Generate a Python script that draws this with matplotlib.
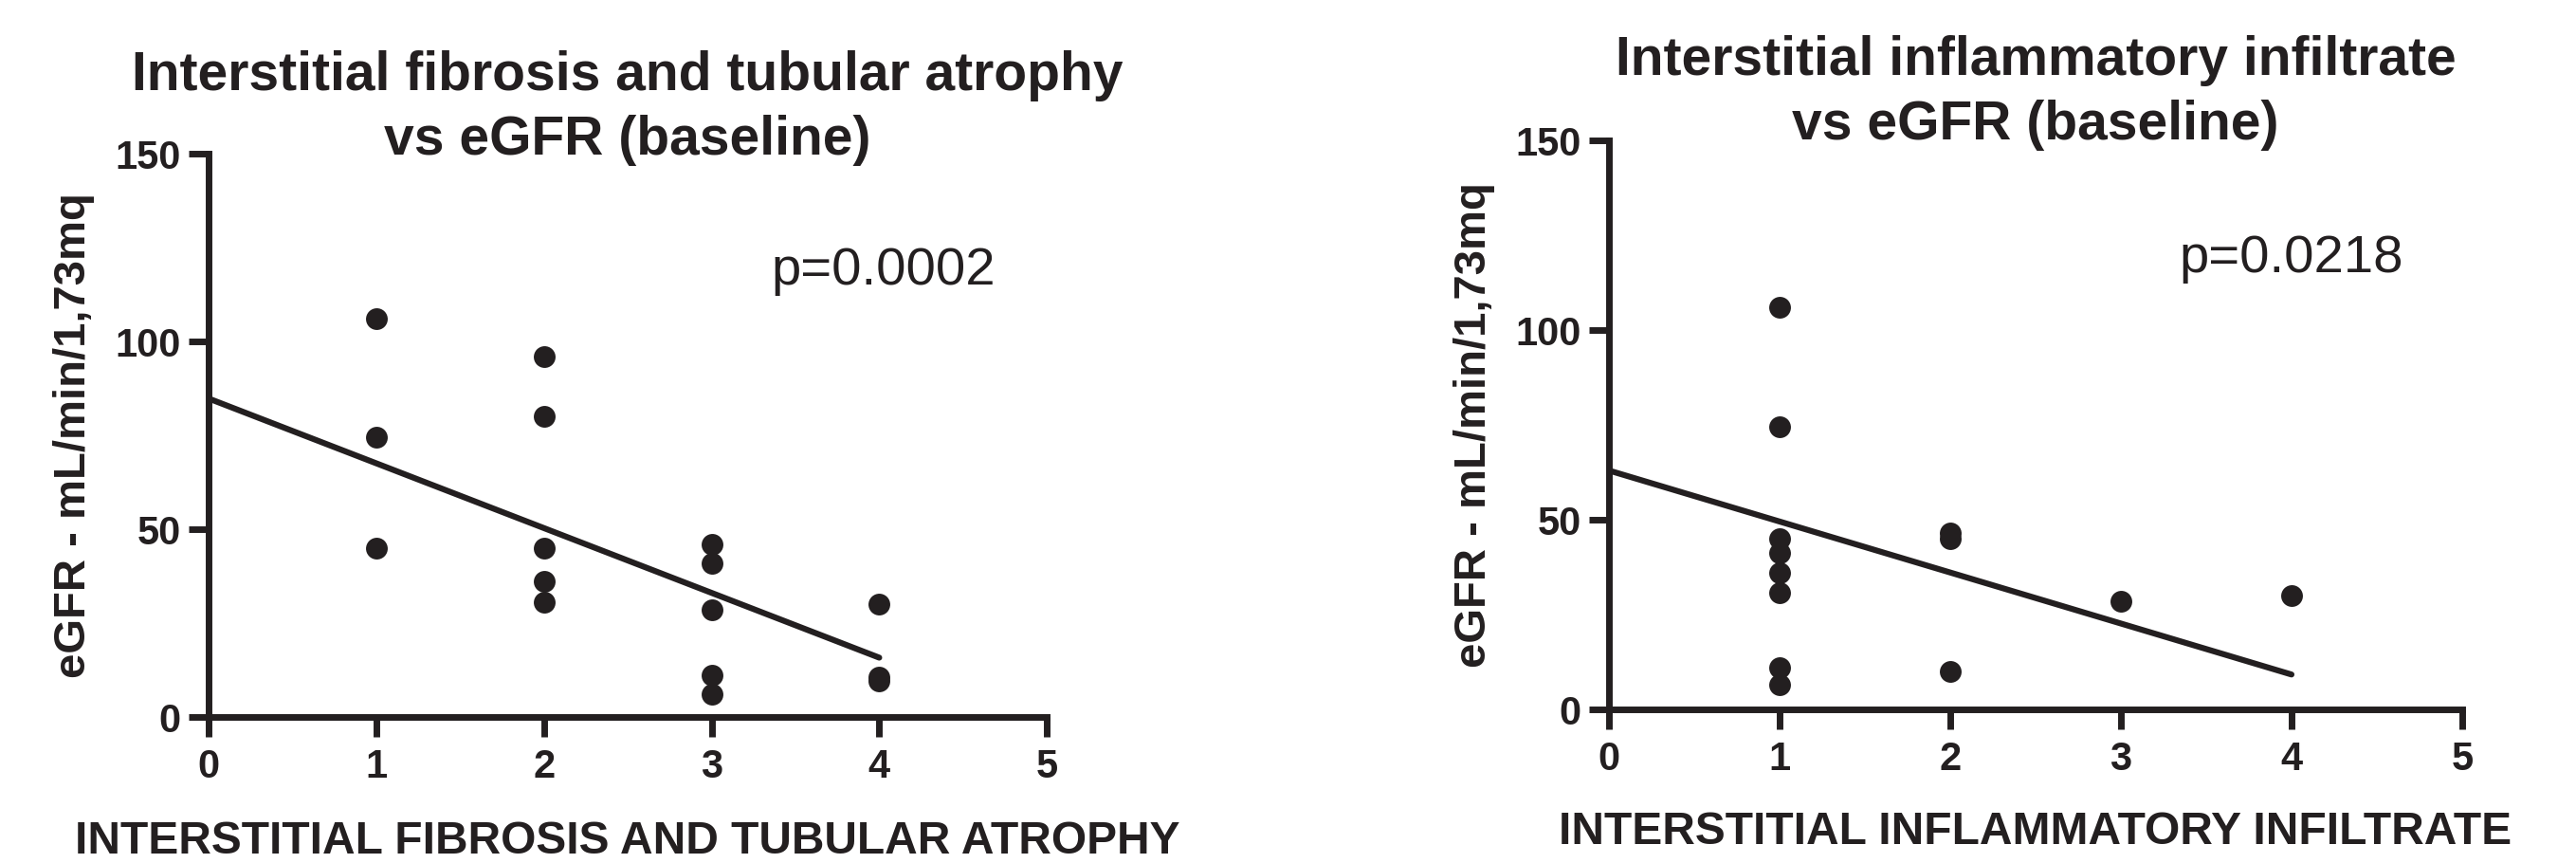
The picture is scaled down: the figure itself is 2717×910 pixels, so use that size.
import matplotlib
matplotlib.use("Agg")
import matplotlib.pyplot as plt

INK = "#231f20"
FONT = "Liberation Sans"

# left panel: fibrosis / tubular atrophy score vs eGFR
ifta_x = [1, 1, 1, 2, 2, 2, 2, 2, 3, 3, 3, 3, 3, 4, 4, 4]
ifta_y = [106, 74.5, 45, 96, 80, 45, 36, 30.5, 46, 41, 28.5, 11, 6, 30, 10.5, 9.5]
ifta_fit_x = [0, 4]
ifta_fit_y = [84.8, 15.8]
ifta_p = "p=0.0002"

# right panel: inflammatory infiltrate score vs eGFR
iii_x = [1, 1, 1, 1, 1, 1, 1, 1, 2, 2, 2, 3, 4]
iii_y = [106, 74.5, 45, 41.2, 36.1, 30.8, 11.1, 6.4, 46.5, 45, 10, 28.5, 30]
iii_fit_x = [0, 4]
iii_fit_y = [63, 9.2]
iii_p = "p=0.0218"

x_ticks = [0, 1, 2, 3, 4, 5]
y_ticks = [0, 50, 100, 150]

fig = plt.figure(figsize=(27.17, 9.10), dpi=100)


def panel(rect, xs, ys, fx, fy, p, p_pos, title, title_up, xlabel, ylab_x, xlab_y):
    ax = fig.add_axes(rect)
    ax.scatter(xs, ys, s=16.5 ** 2, color=INK, zorder=3, clip_on=False, linewidths=0)
    ax.plot(fx, fy, color=INK, lw=4.5, solid_capstyle="round", zorder=2)
    ax.set_xlim(0, 5)
    ax.set_ylim(0, 150)
    ax.set_xticks(x_ticks)
    ax.set_yticks(y_ticks)
    for s in ("top", "right"):
        ax.spines[s].set_visible(False)
    for s in ("left", "bottom"):
        ax.spines[s].set_linewidth(5)
        ax.spines[s].set_color(INK)
    ax.tick_params(direction="out", length=15, width=5, color=INK, pad=6)
    ax.tick_params(axis="x", pad=9)
    for lab in ax.get_xticklabels() + ax.get_yticklabels():
        lab.set_fontfamily(FONT)
        lab.set_fontweight("bold")
        lab.set_fontsize(30)
        lab.set_color(INK)

    # two title lines; the second sits on the top of the y axis
    line1, line2 = title
    ax.annotate(line1, xy=(0.5, 1), xycoords="axes fraction", xytext=(0, 48 + title_up),
                textcoords="offset points", ha="center", va="baseline",
                fontfamily=FONT, fontweight="bold", fontsize=41, color=INK)
    ax.annotate(line2, xy=(0.5, 1), xycoords="axes fraction", xytext=(0, -1 + title_up),
                textcoords="offset points", ha="center", va="baseline",
                fontfamily=FONT, fontweight="bold", fontsize=41, color=INK)

    ax.set_xlabel(xlabel, fontfamily=FONT, fontweight="bold", fontsize=34.5, color=INK)
    ax.xaxis.set_label_coords(0.5, xlab_y)
    ax.set_ylabel("eGFR - mL/min/1,73mq", fontfamily=FONT,
                  fontweight="bold", fontsize=34, color=INK)
    ax.yaxis.set_label_coords(ylab_x, 0.5)
    ax.text(p_pos[0], p_pos[1], p, transform=ax.transAxes, ha="center", va="baseline",
            fontfamily=FONT, fontsize=40.5, color=INK)
    return ax


panel([0.081, 0.1692, 0.3254, 0.6527], ifta_x, ifta_y, ifta_fit_x, ifta_fit_y, ifta_p,
      (0.805, 0.768),
      ("Interstitial fibrosis and tubular atrophy", "vs eGFR (baseline)"), 0,
      "INTERSTITIAL FIBROSIS AND TUBULAR ATROPHY", -0.136, -0.184)
panel([0.6246, 0.178, 0.3312, 0.659], iii_x, iii_y, iii_fit_x, iii_fit_y, iii_p,
      (0.80, 0.768),
      ("Interstitial inflammatory infiltrate", "vs eGFR (baseline)"), 2,
      "INTERSTITIAL INFLAMMATORY INFILTRATE", -0.133, -0.178)

fig.savefig("out.png", dpi=100)
